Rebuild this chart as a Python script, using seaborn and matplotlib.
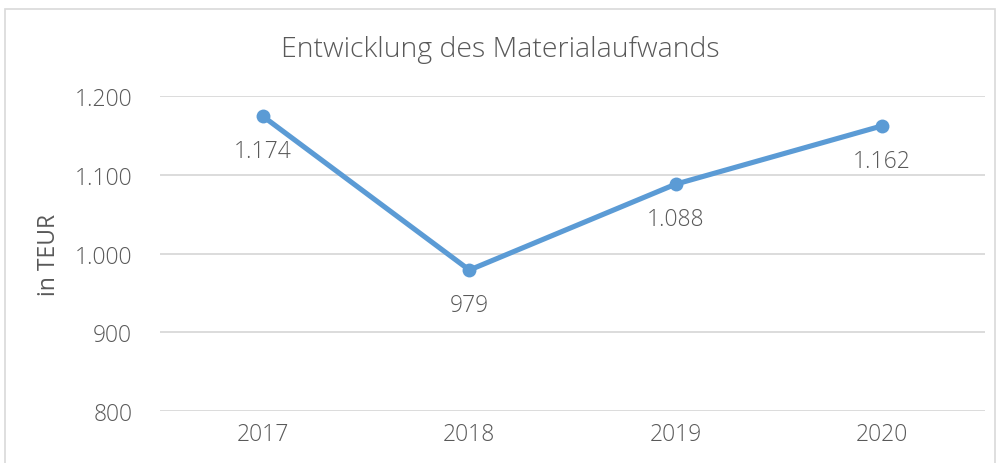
import matplotlib
matplotlib.use("Agg")
import matplotlib.pyplot as plt
import seaborn as sns
import pandas as pd
from matplotlib.patches import Rectangle

years = ["2017", "2018", "2019", "2020"]
values = [1174, 979, 1088, 1162]
labels = ["1.174", "979", "1.088", "1.162"]
yticks = [800, 900, 1000, 1100, 1200]
yticklabels = ["800", "900", "1.000", "1.100", "1.200"]

sns.set_theme(style="white")
plt.rcParams['font.family'] = ['Open Sans', 'DejaVu Sans']
plt.rcParams['font.weight'] = 'light'

TXT = "#595959"
BLUE = "#5B9BD5"
GRID = "#D9D9D9"
FS = 16.5

fig = plt.figure(figsize=(10, 4.64), dpi=100)
ax = fig.add_axes([0.16, 0.112, 0.825, 0.679])

df = pd.DataFrame({"x": [i + 0.5 for i in range(len(years))], "y": values})
sns.lineplot(data=df, x="x", y="y", ax=ax, color=BLUE, linewidth=3.7,
             marker="o", markersize=10, markeredgewidth=0)

ax.set_xlim(0, len(years))
ax.set_ylim(800, 1200)
ax.set_yticks(yticks)
ax.set_yticklabels(yticklabels)
ax.set_xticks([i + 0.5 for i in range(len(years))])
ax.set_xticklabels(years)
ax.tick_params(axis="both", colors=TXT, labelsize=FS, length=0)
ax.tick_params(axis="y", pad=20)
ax.tick_params(axis="x", pad=8)
for s in ax.spines.values():
    s.set_visible(False)
ax.grid(axis="y", color=GRID, linewidth=1.3)
ax.set_axisbelow(True)
ax.set_xlabel("")
ax.set_ylabel("in TEUR", color=TXT, fontsize=FS, labelpad=10)

for i, (v, lab) in enumerate(zip(values, labels)):
    ax.annotate(lab, (i + 0.5, v), xytext=(0, -25), textcoords="offset points",
                ha="center", va="center", color=TXT, fontsize=FS)

fig.text(0.5, 0.893, "Entwicklung des Materialaufwands", ha="center", va="center",
         color=TXT, fontsize=20.5)

fig.patches.append(Rectangle((0.005, -0.02), 0.99, 0.999, transform=fig.transFigure,
                             fill=False, edgecolor="#D9D9D9", linewidth=1.2))

fig.savefig("out.png", dpi=100, facecolor="white")
